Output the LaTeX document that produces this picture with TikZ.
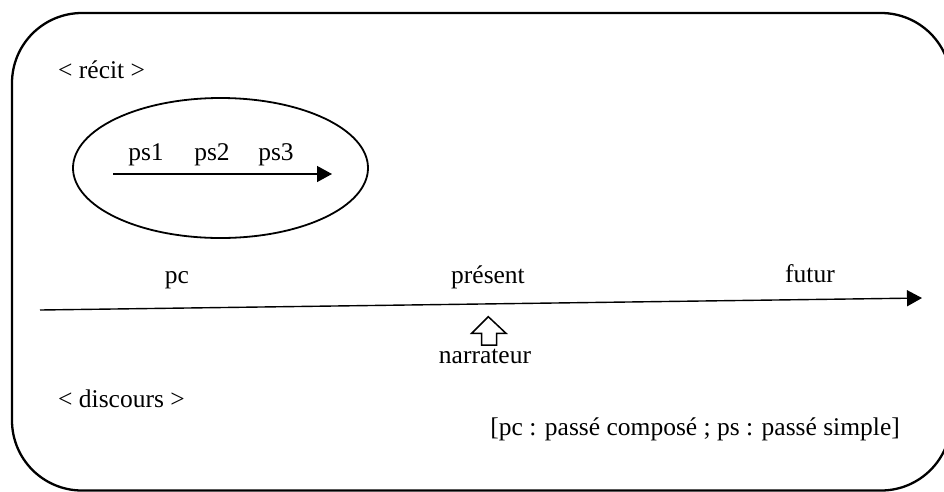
\documentclass[tikz,border=0pt]{standalone}
\usepackage{fontspec}
\setmainfont{Liberation Serif}
\usetikzlibrary{arrows.meta,shapes.geometric}
\tikzset{
  x=1pt, y=-1pt,
  lbl/.style={font=\fontsize{25.5pt}{30pt}\selectfont, inner sep=0pt, anchor=base},
  frame/.style={draw, line width=2.3pt, rounded corners=70pt},
  timeline/.style={line width=1.4pt, -{Triangle[length=15pt,width=16pt]}},
  bubble/.style={draw, ellipse, line width=1.8pt, inner sep=0pt, minimum width=295pt, minimum height=140pt},
  blockarrow/.style={draw, line width=1.5pt, line join=miter, fill=white}
}
\begin{document}
\begin{tikzpicture}
\useasboundingbox (0,0) rectangle (944,491);
\fill[white] (0,0) rectangle (944,491);
% frame (its right side lies beyond the page)
\begin{scope}
\clip (0,0) rectangle (944,491);
\draw[frame] (12,13) rectangle (951,490.5);
\end{scope}
% labels
\node[lbl, anchor=base west] (recitlbl) at (58,78) {< récit >};
\node[lbl, anchor=base west] (discours) at (58,407) {< discours >};
% ellipse
\node[bubble] (recit) at (220.5,168) {};
\node[lbl] (ps1) at (146,160) {ps1};
\node[lbl] (ps2) at (212,160) {ps2};
\node[lbl] (ps3) at (276,160) {ps3};
\coordinate (r0) at (113,174);
\coordinate (r1) at (332,174);
\draw[timeline] (r0) -- (r1);
% main time line
\node[lbl] (pc) at (177,283) {pc};
\node[lbl] (present) at (488,283) {présent};
\node[lbl] (futur) at (810,282) {futur};
\coordinate (t0) at (40,310);
\coordinate (t1) at (922,298);
\draw[timeline] (t0) -- (t1);
% narrateur
\draw[blockarrow] (488.3,316.7) -- (506,333.3) -- (496.7,333.3) -- (496.7,345) -- (481.7,345) -- (481.7,333.3) -- (471.7,333.3) -- cycle;
\node[lbl] (narrateur) at (485,363) {narrateur};
% caption
\node[lbl, anchor=base east] (caption) at (900,435) {[pc : passé composé ; ps : passé simple]};
\end{tikzpicture}
\end{document}
